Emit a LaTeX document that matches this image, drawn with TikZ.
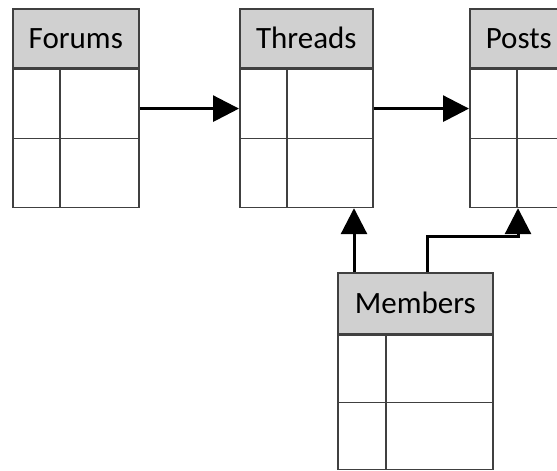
\documentclass[tikz,border=0pt]{standalone}
\usepackage{fontspec}
\setmainfont{Carlito}
\usepackage{tikz}
\usetikzlibrary{arrows.meta}
\usetikzlibrary{positioning,calc}

\definecolor{tabline}{HTML}{404040}
\definecolor{headgray}{HTML}{D0D0D0}

\begin{document}
\begin{tikzpicture}[x=1pt,y=1pt,
  head/.style={draw=tabline,fill=headgray,line width=1.6pt,minimum height=59pt,inner sep=0pt,font=\fontsize{31}{36}\selectfont},
  body/.style={draw=tabline,line width=1.6pt,minimum height=138pt,inner sep=0pt},
  cell/.style={draw=tabline,line width=1.6pt},
  link/.style={line width=3pt,-{Triangle[length=26pt,width=26pt]}}]
  \useasboundingbox (0,0) rectangle (557,-471);
  % tables
  \node[head,minimum width=126pt,anchor=north west] (forums) at (12,-8) {Forums};
  \node[body,minimum width=126pt,below=0pt of forums] (forumsbody) {};
  \node[head,minimum width=133pt,anchor=north west] (threads) at (239,-8) {Threads};
  \node[body,minimum width=133pt,below=0pt of threads] (threadsbody) {};
  \node[head,minimum width=98pt,anchor=north west] (posts) at (469,-8) {Posts};
  \node[body,minimum width=98pt,below=0pt of posts] (postsbody) {};
  \node[head,minimum width=155pt,minimum height=61pt,anchor=north west] (members) at (337,-272) {Members};
  \node[body,minimum width=155pt,minimum height=134pt,below=0pt of members] (membersbody) {};
  % cells
  \draw[cell] (forumsbody.west) -- (forumsbody.east);
  \draw[cell] ($(forumsbody.north west)+(48,0)$) -- ($(forumsbody.south west)+(48,0)$);
  \draw[cell] (threadsbody.west) -- (threadsbody.east);
  \draw[cell] ($(threadsbody.north west)+(48,0)$) -- ($(threadsbody.south west)+(48,0)$);
  \draw[cell] (postsbody.west) -- (postsbody.east);
  \draw[cell] ($(postsbody.north west)+(48,0)$) -- ($(postsbody.south west)+(48,0)$);
  \draw[cell] (membersbody.west) -- (membersbody.east);
  \draw[cell] ($(membersbody.north west)+(49,0)$) -- ($(membersbody.south west)+(49,0)$);
  % links
  \coordinate (f1) at ($(forumsbody.north east)+(0,-40)$);
  \coordinate (t1) at ($(threadsbody.north east)+(0,-40)$);
  \draw[link] (f1) -- (f1 -| threadsbody.west);
  \draw[link] (t1) -- (t1 -| postsbody.west);
  \coordinate (m1) at ($(members.north west)+(17,0)$);
  \coordinate (m2) at ($(members.north west)+(90,0)$);
  \coordinate (p1) at ($(postsbody.south west)+(49,0)$);
  \draw[link] (m1) -- (m1 |- threadsbody.south);
  \draw[link] (m2) -- ++(0,36) -| (p1);
\end{tikzpicture}
\end{document}
